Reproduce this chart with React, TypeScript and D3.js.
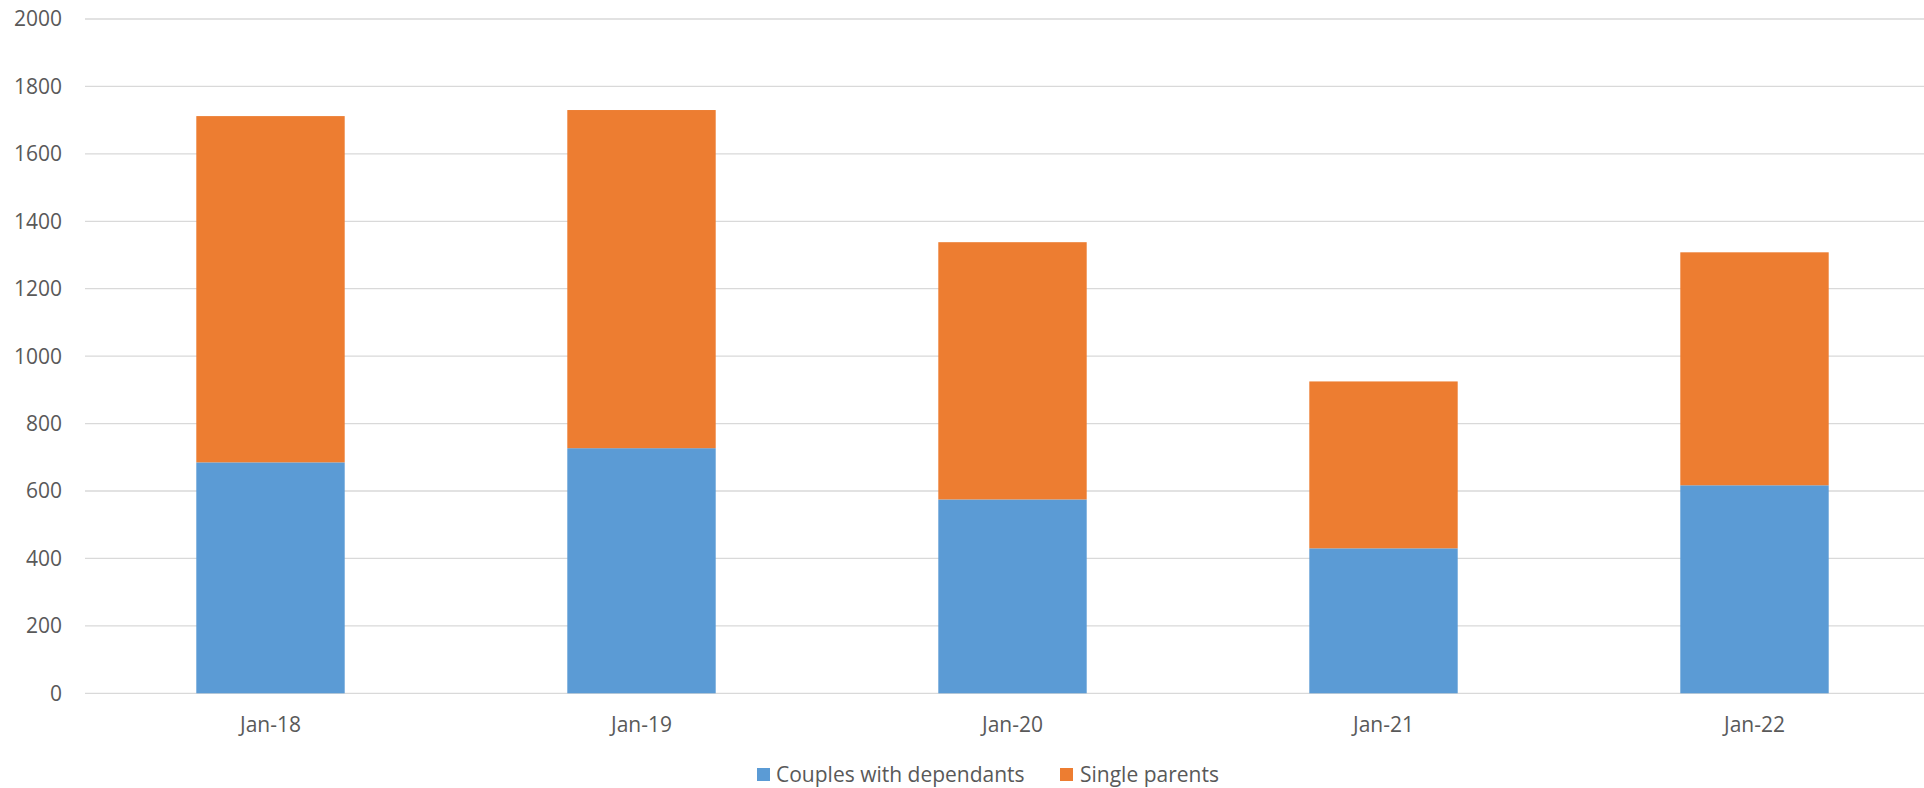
import React from "react";
import * as d3 from "d3";

const categories = ["Jan-18", "Jan-19", "Jan-20", "Jan-21", "Jan-22"];
const couplesWithDependants = [685, 727, 575, 430, 617];
const singleParents = [1027, 1003, 763, 495, 691];
const yTicks = [0, 200, 400, 600, 800, 1000, 1200, 1400, 1600, 1800, 2000];
const seriesNames = ["Couples with dependants", "Single parents"];
const seriesColors = ["#5B9BD5", "#ED7D31"];

const W = 1924;
const H = 788;
const FONT = "'Open Sans', 'Liberation Sans', sans-serif";

export default function App() {
  const x = d3.scaleBand<string>().domain(categories).range([85, 1940]).paddingInner(0.6).paddingOuter(0.3);
  const y = d3.scaleLinear().domain([0, 2000]).range([693.3, 19]);

  const rows = categories.map((c, i) => ({ cat: c, couples: couplesWithDependants[i], single: singleParents[i] }));
  const stack = d3.stack<any>().keys(["couples", "single"])(rows);

  return (
    <svg width={W} height={H} style={{ position: "absolute", left: 0, top: 0, background: "#fff" }}>
      <rect x={0} y={0} width={W} height={H} fill="#fff" />
      {yTicks.map((t) => (
        <g key={t}>
          <line x1={85} x2={W} y1={y(t)} y2={y(t)} stroke="#d9d9d9" strokeWidth={1.3} />
          <text x={62} y={y(t)} dy="0.35em" textAnchor="end" fontFamily={FONT} fontSize={21} fill="#595959">
            {t}
          </text>
        </g>
      ))}
      {stack.map((layer, si) => (
        <g key={si}>
          {layer.map((d: any, i: number) => (
            <rect
              key={i}
              x={x(categories[i])}
              y={y(d[1])}
              width={x.bandwidth()}
              height={y(d[0]) - y(d[1])}
              fill={seriesColors[si]}
            />
          ))}
        </g>
      ))}
      {categories.map((c) => (
        <text
          key={c}
          x={(x(c) as number) + x.bandwidth() / 2}
          y={725}
          dy="0.35em"
          textAnchor="middle"
          fontFamily={FONT}
          fontSize={21}
          fill="#595959"
        >
          {c}
        </text>
      ))}
      <g>
        <rect x={757} y={768} width={13} height={13} fill={seriesColors[0]} />
        <text x={776} y={782} fontFamily={FONT} fontSize={21} fill="#595959">
          {seriesNames[0]}
        </text>
        <rect x={1060} y={768} width={13} height={13} fill={seriesColors[1]} />
        <text x={1080} y={782} fontFamily={FONT} fontSize={21} fill="#595959">
          {seriesNames[1]}
        </text>
      </g>
    </svg>
  );
}
